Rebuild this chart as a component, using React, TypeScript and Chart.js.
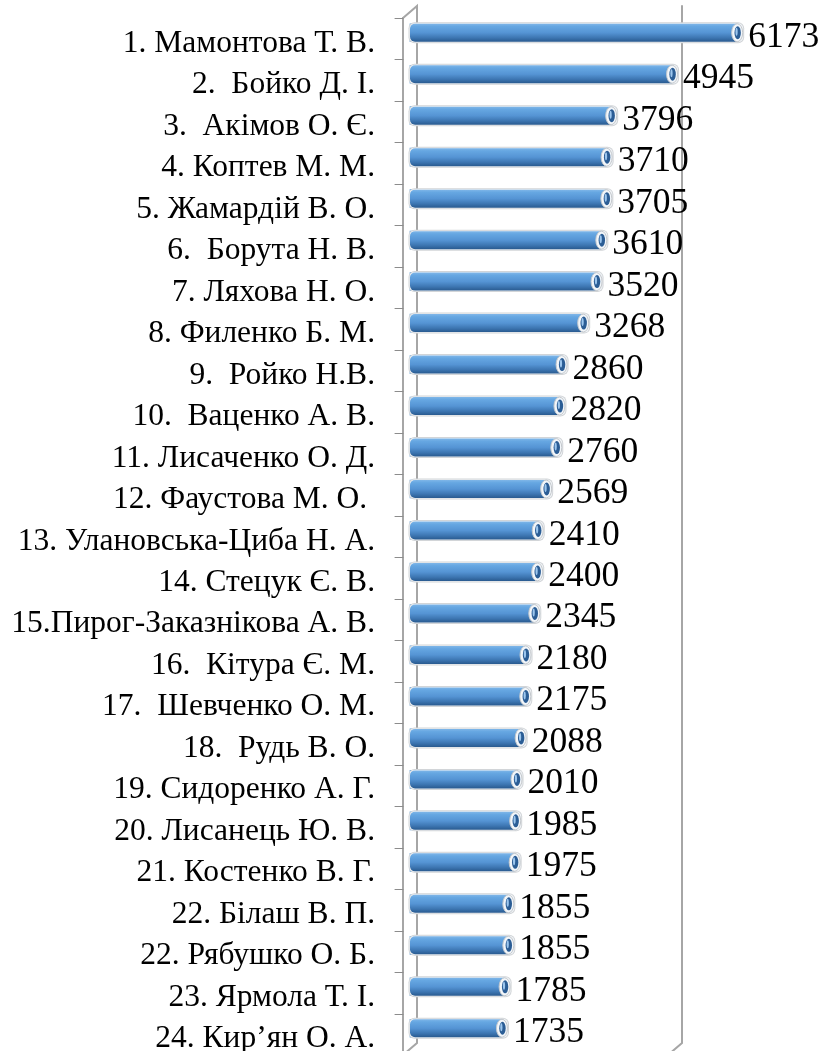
import React, { useEffect, useRef } from "react";
import { Chart, registerables } from "chart.js";

Chart.register(...registerables);

const names: string[] = [
  "1. Мамонтова Т. В.",
  "2.  Бойко Д. І.",
  "3.  Акімов О. Є.",
  "4. Коптев М. М.",
  "5. Жамардій В. О.",
  "6.  Борута Н. В.",
  "7. Ляхова Н. О.",
  "8. Филенко Б. М.",
  "9.  Ройко Н.В.",
  "10.  Ваценко А. В.",
  "11. Лисаченко О. Д.",
  "12. Фаустова М. О. ",
  "13. Улановська-Циба Н. А.",
  "14. Стецук Є. В.",
  "15.Пирог-Заказнікова А. В.",
  "16.  Кітура Є. М.",
  "17.  Шевченко О. М.",
  "18.  Рудь В. О.",
  "19. Сидоренко А. Г.",
  "20. Лисанець Ю. В.",
  "21. Костенко В. Г.",
  "22. Білаш В. П.",
  "22. Рябушко О. Б.",
  "23. Ярмола Т. І.",
  "24. Кир’ян О. А.",
];

const values: number[] = [
  6173, 4945, 3796, 3710, 3705, 3610, 3520, 3268, 2860, 2820, 2760, 2569, 2410,
  2400, 2345, 2180, 2175, 2088, 2010, 1985, 1975, 1855, 1855, 1785, 1735,
];

const axisMin = 0;
const axisMax = 5000;

const DX = 7;
const DY = 6;

const framePlugin = {
  id: "frame3d",
  beforeDatasetsDraw(chart: any) {
    const { ctx, chartArea, scales } = chart;
    const xs = scales.x;
    const L = xs.getPixelForValue(axisMin);
    const R = xs.getPixelForValue(axisMax);
    const T = chartArea.top;
    const B = chartArea.bottom;
    ctx.save();
    ctx.strokeStyle = "#A6A6A6";
    ctx.lineWidth = 2;
    ctx.lineCap = "round";
    ctx.beginPath();
    ctx.moveTo(L - DX, T + DY);
    ctx.lineTo(L + DX, T - DY);
    ctx.lineTo(L + DX, B - DY);
    ctx.lineTo(L - DX, B + DY);
    ctx.stroke();
    ctx.beginPath();
    ctx.moveTo(L - DX, T + DY);
    ctx.lineTo(L - DX, B + DY);
    ctx.stroke();
    ctx.beginPath();
    ctx.moveTo(R + DX, T - DY);
    ctx.lineTo(R + DX, B - DY);
    ctx.lineTo(R - DX, B + DY);
    ctx.stroke();
    ctx.strokeStyle = "#8C8C8C";
    ctx.lineWidth = 1;
    const n = names.length;
    const step = (B - T) / n;
    for (let i = 0; i <= n; i++) {
      const y = Math.round(T + DY + i * step) + 0.5;
      ctx.beginPath();
      ctx.moveTo(L - DX - 8, y);
      ctx.lineTo(L - DX, y);
      ctx.stroke();
    }
    ctx.restore();
  },
};

const cylinderPlugin = {
  id: "cylinders",
  afterDatasetsDraw(chart: any) {
    const { ctx } = chart;
    const meta = chart.getDatasetMeta(0);
    ctx.save();
    meta.data.forEach((el: any) => {
      const { x, y, base, height } = el.getProps(["x", "y", "base", "height"], true);
      const h = height;
      const top = y - h / 2;
      ctx.beginPath();
      ctx.roundRect(base - 1.5, top - 1.5, x - base + 8.5, h + 3, [6, 6, 6, 6]);
      ctx.fillStyle = "#D2D5D8";
      ctx.fill();
      ctx.beginPath();
      ctx.roundRect(base - 0.5, top - 0.5, x - base + 6.5, h + 1, [5, 5, 5, 5]);
      ctx.fillStyle = "#F0F3F6";
      ctx.fill();
      const g = ctx.createLinearGradient(0, top, 0, top + h);
      g.addColorStop(0, "#7FB6E8");
      g.addColorStop(0.15, "#66A7E2");
      g.addColorStop(0.5, "#5594D4");
      g.addColorStop(0.78, "#3D76B2");
      g.addColorStop(1, "#295A8F");
      ctx.beginPath();
      ctx.roundRect(base, top, x - base, h, [5, 0, 0, 5]);
      ctx.fillStyle = g;
      ctx.fill();
      ctx.beginPath();
      ctx.ellipse(x, y, 5.5, h / 2, 0, 0, Math.PI * 2);
      ctx.fillStyle = "#F2F6FA";
      ctx.fill();
      ctx.strokeStyle = "#C4C8CC";
      ctx.lineWidth = 1;
      ctx.stroke();
      ctx.beginPath();
      ctx.ellipse(x + 0.5, y, 3.2, h / 2 - 2.5, 0, 0, Math.PI * 2);
      ctx.fillStyle = "#2B5D95";
      ctx.fill();
      ctx.beginPath();
      ctx.ellipse(x - 0.6, y - 1, 1.1, h / 2 - 5, 0, 0, Math.PI * 2);
      ctx.fillStyle = "#9CC6EE";
      ctx.fill();
    });
    ctx.restore();
  },
};

const textPlugin = {
  id: "texts",
  afterDraw(chart: any) {
    const { ctx, scales } = chart;
    const ys = scales.y;
    const meta = chart.getDatasetMeta(0);
    ctx.save();
    ctx.fillStyle = "#000000";
    ctx.textBaseline = "alphabetic";
    ctx.font = "31.5px 'Liberation Serif', 'Times New Roman', serif";
    ctx.textAlign = "right";
    names.forEach((name, i) => {
      const py = ys.getPixelForValue(i);
      ctx.fillText(name, 375, py + 19);
    });
    ctx.font = "35.5px 'Liberation Serif', 'Times New Roman', serif";
    ctx.textAlign = "left";
    meta.data.forEach((el: any, i: number) => {
      const { x, y } = el.getProps(["x", "y"], true);
      ctx.fillText(String(values[i]), x + 11, y + 14);
    });
    ctx.restore();
  },
};

export default function App() {
  const ref = useRef<HTMLCanvasElement>(null);
  useEffect(() => {
    if (!ref.current) return;
    const chart = new Chart(ref.current, {
      type: "bar",
      data: {
        labels: names,
        datasets: [
          {
            data: values,
            backgroundColor: "#5B9BD5",
            borderWidth: 0,
            barThickness: 18,
            clip: false as any,
          },
        ],
      },
      options: {
        indexAxis: "y",
        responsive: false,
        animation: false,
        layout: { padding: { left: 0, top: 12, right: 152, bottom: 2 } },
        plugins: {
          legend: { display: false },
          tooltip: { enabled: false },
        },
        scales: {
          x: { display: false, min: axisMin, max: axisMax },
          y: {
            display: true,
            grid: { display: false },
            border: { display: false },
            ticks: { display: false },
            afterFit: (s: any) => {
              s.width = 410;
              s.paddingTop = 0;
              s.paddingBottom = 0;
            },
          },
        },
      },
      plugins: [framePlugin, cylinderPlugin, textPlugin],
    });
    return () => chart.destroy();
  }, []);
  return (
    <div style={{ position: "fixed", left: 0, top: 0, width: 827, height: 1051, background: "#fff" }}>
      <canvas ref={ref} width={827} height={1051} style={{ display: "block" }} />
    </div>
  );
}
